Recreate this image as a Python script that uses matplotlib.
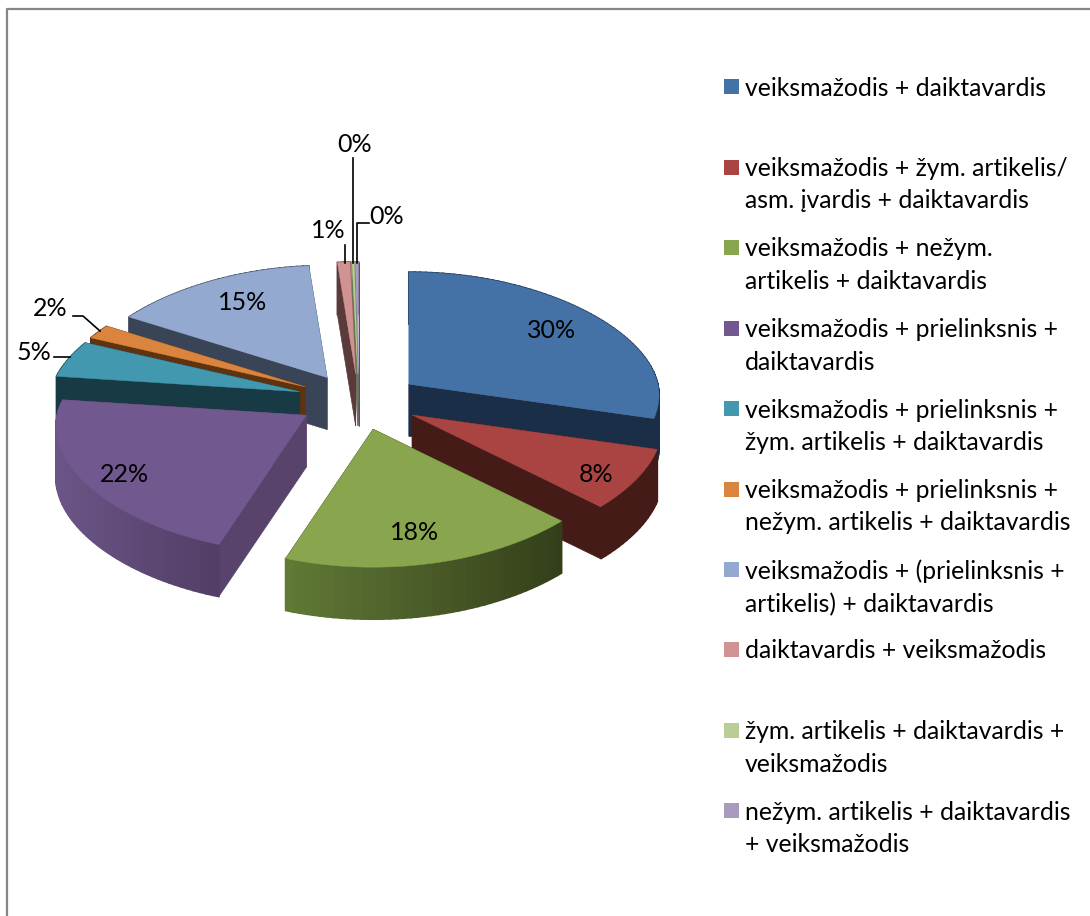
import numpy as np
import matplotlib
matplotlib.use('Agg')
import matplotlib.pyplot as plt
from matplotlib.colors import to_rgb

plt.rcParams['font.family'] = ['Lato', 'DejaVu Sans']

# share of each pattern [%]
names = ['veiksmažodis + daiktavardis',
         'veiksmažodis + žym. artikelis/\nasm. įvardis + daiktavardis',
         'veiksmažodis + nežym.\nartikelis + daiktavardis',
         'veiksmažodis + prielinksnis +\ndaiktavardis',
         'veiksmažodis + prielinksnis +\nžym. artikelis + daiktavardis',
         'veiksmažodis + prielinksnis +\nnežym. artikelis + daiktavardis',
         'veiksmažodis + (prielinksnis +\nartikelis) + daiktavardis',
         'daiktavardis + veiksmažodis',
         'žym. artikelis + daiktavardis +\nveiksmažodis',
         'nežym. artikelis + daiktavardis\n+ veiksmažodis']
values = [29.7, 7.8, 17.7, 22.0, 5.0, 1.9, 14.6, 0.9, 0.15, 0.25]

top_colors = ['#4471a6', '#a94442', '#89a54e', '#71588f', '#4198af',
              '#db843d', '#93a9cf', '#d19392', '#b9cd96', '#a99bbd']
wall_left = ['#1b2e47', '#451b18', '#617a36', '#6b5587', '#183a45',
             '#5e3310', '#3a4457', '#5a3a3a', '#6a7a50', '#5a5068']
wall_right = ['#1b2e47', '#451b18', '#343f1a', '#523e66', '#183a45',
              '#5e3310', '#3a4457', '#5a3a3a', '#6a7a50', '#5a5068']
face_colors = ['#1b2e47', '#451b18', '#343f1a', '#58436c', '#183a45',
               '#5e3310', '#3a4457', '#5a3a3a', '#6a7a50', '#5a5068']

# pie geometry in pixels
cx, cy = 359, 399
rx, ry_back, ry_front = 249, 112, 138
expl_x, expl_back, expl_front = 62, 25, 31
depth = 52
persp = 0.1


def rim(ang):
    s, c = np.sin(ang), np.cos(ang)
    x = rx * s * (1 - persp * c)
    # front half bulges a bit towards the viewer
    front = -ry_front * c * (1 - 0.2 * (1 - np.abs(c)))
    y = np.where(c > 0, -ry_back * c, front)
    return x, y


def apex(ang):
    s, c = np.sin(ang), np.cos(ang)
    return cx + expl_x * s, cy + (-expl_back * c if c > 0 else -expl_front * c)


fig = plt.figure(figsize=(10.9, 9.16), dpi=100)
ax = fig.add_axes([0, 0, 1, 1])
ax.set_xlim(0, 1090)
ax.set_ylim(916, 0)
ax.axis('off')

# chart frame, right side is cut off in the original
ax.plot([7, 7, 1090], [916, 9, 9], color='#868686', lw=1.6, zorder=0)

edges = np.radians(np.cumsum([0] + values) * 3.6)
mids = (edges[:-1] + edges[1:]) / 2
order = list(np.argsort(-np.cos(mids)))

# back slices first, front ones paint over them
for i in order:
    a0, a1 = edges[i], edges[i + 1]
    ax0, ay0 = apex(mids[i])
    th = np.linspace(a0, a1, max(int((a1 - a0) * 40), 3))
    xr, yr = rim(th)
    xr, yr = xr + ax0, yr + ay0
    z = 5 + order.index(i)

    # cut faces
    for xe, ye in [(xr[0], yr[0]), (xr[-1], yr[-1])]:
        ax.fill([ax0, xe, xe, ax0], [ay0, ye, ye + depth, ay0 + depth],
                color=face_colors[i], lw=0.5, zorder=z)

    # outer wall, shaded left to right
    cl, cr = np.array(to_rgb(wall_left[i])), np.array(to_rgb(wall_right[i]))
    xmin, xmax = xr.min(), xr.max()
    for k in range(len(th) - 1):
        f = (xr[k] - xmin) / max(xmax - xmin, 1)
        ax.fill([xr[k], xr[k + 1], xr[k + 1], xr[k]],
                [yr[k], yr[k + 1], yr[k + 1] + depth, yr[k] + depth],
                color=cl + (cr - cl) * f, lw=1.2, zorder=z)

    # top
    ax.fill(np.r_[ax0, xr], np.r_[ay0, yr], color=top_colors[i], lw=0.3, zorder=z)

# data labels
label_xy = [(552, 330), (596, 475), (415, 532), (124, 474), (34, 352),
            (50, 309), (243, 302), (328, 230), (355, 144), (387, 217)]
for v, (x, y) in zip(values, label_xy):
    ax.text(x, y, '%d%%' % round(v), fontsize=18, color='black',
            ha='center', va='center', zorder=40)

# leader lines
leaders = [([54, 70], [357, 357]),
           ([73, 83, 100], [316, 316, 331]),
           ([345, 345], [245, 263]),
           ([353, 353], [158, 263]),
           ([369, 357, 357], [223, 223, 263])]
for lx, ly in leaders:
    ax.plot(lx, ly, color='black', lw=1.2, zorder=41)

# legend
legend_y = [87, 167.5, 248, 328.5, 409, 489.5, 570, 649.5, 730.5, 811]
for name, col, y in zip(names, top_colors, legend_y):
    ax.fill([724, 739, 739, 724], [y - 8, y - 8, y + 7, y + 7], color=col, lw=0)
    ax.text(745, y - 10.5, name, fontsize=17.8, color='black', ha='left', va='top',
            linespacing=1.5)

fig.savefig('out.png', dpi=100)
